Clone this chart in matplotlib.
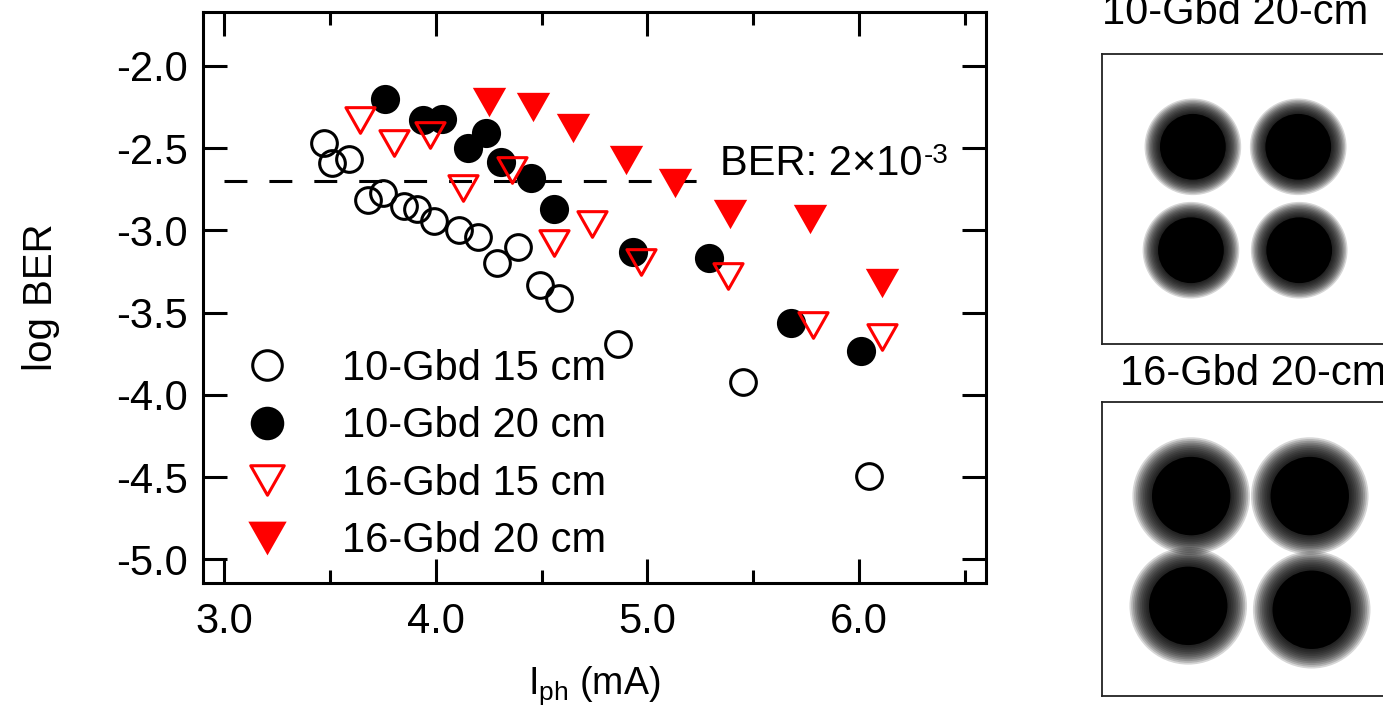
import matplotlib
matplotlib.use('Agg')
import matplotlib.pyplot as plt
import numpy as np
from matplotlib.patches import Circle
from matplotlib.path import Path
from matplotlib.ticker import MultipleLocator, FormatStrFormatter
from matplotlib.markers import MarkerStyle

plt.rcParams['font.family'] = ['Liberation Sans', 'DejaVu Sans']
plt.rcParams['mathtext.fontset'] = 'custom'
plt.rcParams['mathtext.rm'] = 'Liberation Sans'
plt.rcParams['mathtext.it'] = 'Liberation Sans:italic'
plt.rcParams['mathtext.bf'] = 'Liberation Sans:bold'
plt.rcParams['axes.unicode_minus'] = False

# ---------------- data ----------------
labels = ['10-Gbd 15 cm', '10-Gbd 20 cm', '16-Gbd 15 cm', '16-Gbd 20 cm']

x_10g_15 = [3.47, 3.51, 3.59, 3.68, 3.75, 3.85, 3.91, 3.99, 4.11, 4.20, 4.29, 4.39, 4.49, 4.58, 4.86, 5.45, 6.05]
y_10g_15 = [-2.47, -2.59, -2.565, -2.815, -2.77, -2.85, -2.87, -2.94, -3.00, -3.04, -3.20, -3.10, -3.33, -3.41, -3.69, -3.92, -4.49]

x_10g_20 = [3.76, 3.94, 4.03, 4.15, 4.235, 4.31, 4.45, 4.56, 4.93, 5.29, 5.68, 6.01]
y_10g_20 = [-2.20, -2.33, -2.325, -2.50, -2.41, -2.585, -2.68, -2.87, -3.13, -3.17, -3.565, -3.73]

x_16g_15 = [3.64, 3.80, 3.97, 4.13, 4.36, 4.56, 4.74, 4.97, 5.38, 5.785, 6.11]
y_16g_15 = [-2.33, -2.466, -2.42, -2.74, -2.63, -3.076, -2.96, -3.19, -3.275, -3.576, -3.65]

x_16g_20 = [4.25, 4.46, 4.65, 4.90, 5.13, 5.39, 5.77, 6.11]
y_16g_20 = [-2.22, -2.25, -2.375, -2.57, -2.71, -2.90, -2.93, -3.32]

ber_threshold = 2e-3
thr_x = [3.0, 5.235]

xticks = [3.0, 4.0, 5.0, 6.0]
yticks = [-5.0, -4.5, -4.0, -3.5, -3.0, -2.5, -2.0]

# constellation panels (cluster centres and radii, panel coords)
const_titles = ['10-Gbd 20-cm', '16-Gbd 20-cm']
const_cx = [[-0.56, 0.53, -0.58, 0.54], [-0.59, 0.62, -0.62, 0.64]]
const_cy = [[0.54, 0.54, -0.53, -0.53], [0.54, 0.54, -0.58, -0.62]]
const_rcore = [0.34, 0.40]
const_rout = [0.50, 0.60]

# ---------------- figure ----------------
W, H = 1383, 706
fig = plt.figure(figsize=(W / 100, H / 100), dpi=100)
ax = fig.add_axes([203 / W, 1 - 583 / H, 783 / W, 571 / H])

tri_path = Path([(-1, 0.88), (1, 0.88), (0, -0.88), (-1, 0.88)],
                [Path.MOVETO, Path.LINETO, Path.LINETO, Path.CLOSEPOLY])
tri = MarkerStyle(tri_path, joinstyle='miter')

l1, = ax.plot(x_10g_15, y_10g_15, ls='none', marker='o', ms=18.5, mfc='none',
              mec='black', mew=2.2, zorder=3)
l2, = ax.plot(x_10g_20, y_10g_20, ls='none', marker='o', ms=21, mfc='black',
              mec='black', mew=0, zorder=4)
l3, = ax.plot(x_16g_15, y_16g_15, ls='none', marker=tri, ms=21, mfc='none',
              mec='red', mew=2.2, zorder=5)
l4, = ax.plot(x_16g_20, y_16g_20, ls='none', marker=tri, ms=24, mfc='red',
              mec='red', mew=0, zorder=6)

ythr = np.log10(ber_threshold)
ax.plot(thr_x, [ythr, ythr], color='black', lw=2.2, ls=(0, (7.5, 7.2)),
        dash_capstyle='butt', zorder=2)
t = ax.text(5.344, -2.663, 'BER: 2×10', fontsize=30, ha='left', va='baseline')
ax.annotate('-3', xy=(1.0, 1.0), xycoords=t, xytext=(1, 1),
            textcoords='offset points', fontsize=20, ha='left', va='top')

ax.set_xlim(2.899, 6.601)
ax.set_ylim(-5.143, -1.672)
ax.set_xticks(xticks)
ax.xaxis.set_minor_locator(MultipleLocator(0.5))
ax.set_yticks(yticks)
ax.xaxis.set_major_formatter(FormatStrFormatter('%.1f'))
ax.yaxis.set_major_formatter(FormatStrFormatter('%.1f'))
ax.tick_params(which='both', direction='in', top=True, right=True, width=2.2,
               labelsize=30)
ax.tick_params(which='major', length=17)
ax.tick_params(which='minor', length=9.4)
ax.tick_params(axis='x', which='major', pad=14)
ax.tick_params(axis='y', which='major', pad=10.8)
for s in ax.spines.values():
    s.set_linewidth(2.2)

ax.set_ylabel('log BER', fontsize=29)
ax.yaxis.set_label_coords(-0.183, 0.5)
ax.set_xlabel(r'I$_{\mathrm{ph}}$ (mA)', fontsize=27)
ax.xaxis.set_label_coords(0.5, -0.142)

ax.legend([l1, l2, l3, l4], labels, loc='upper left',
          bbox_to_anchor=(0.055, 0.41), bbox_transform=ax.transAxes,
          frameon=False, fontsize=30, markerscale=1.15, handlelength=1.0,
          handletextpad=1.3, labelspacing=0.42, borderpad=0, borderaxespad=0,
          numpoints=1)

# ---------------- constellation panels ----------------
boxes = [(1102, 54, 290), (1102, 402, 294)]
title_pos = [(1102, 24), (1120, 385)]
for i, (bx, by, bs) in enumerate(boxes):
    a = fig.add_axes([bx / W, 1 - (by + bs) / H, bs / W, bs / H])
    a.set_xlim(-1.5, 1.5)
    a.set_ylim(-1.5, 1.5)
    a.set_xticks([])
    a.set_yticks([])
    for s in a.spines.values():
        s.set_linewidth(1.3)
        s.set_color('#222222')
    for cx, cy in zip(const_cx[i], const_cy[i]):
        for r in np.linspace(const_rout[i], const_rcore[i], 12):
            a.add_patch(Circle((cx, cy), r, facecolor='black', alpha=0.16, lw=0))
        a.add_patch(Circle((cx, cy), const_rcore[i], facecolor='black', lw=0))
    tx, ty = title_pos[i]
    fig.text(tx / W, 1 - ty / H, const_titles[i], fontsize=30, ha='left',
             va='baseline')

fig.savefig('out.png', dpi=100)
